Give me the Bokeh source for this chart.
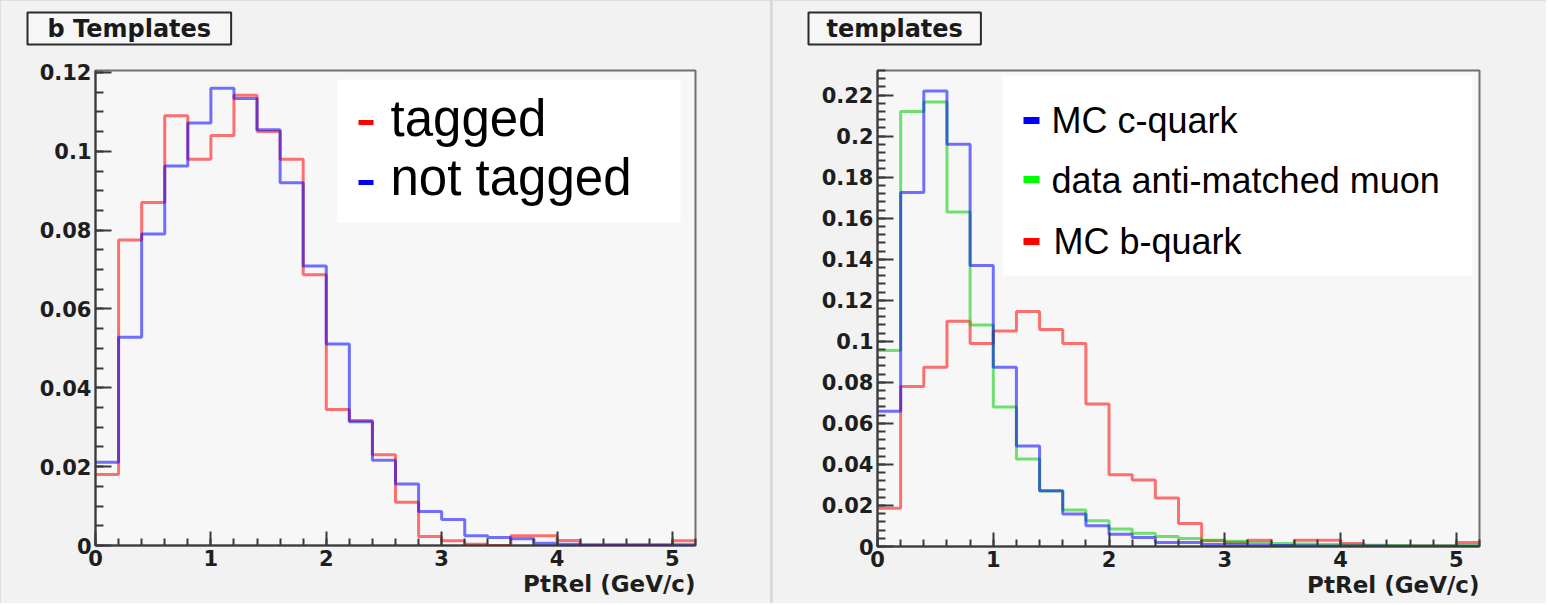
from bokeh.plotting import figure
from bokeh.models import (Range1d, SingleIntervalTicker, CustomJSTickFormatter,
                          Label, BoxAnnotation, ColumnDataSource, Title)
from bokeh.layouts import row
from bokeh.embed import file_html
from bokeh.resources import INLINE

# ---------------- data ----------------
bin_edges = [0.0, 0.2, 0.4, 0.6, 0.8, 1.0, 1.2, 1.4, 1.6, 1.8, 2.0, 2.2, 2.4,
             2.6, 2.8, 3.0, 3.2, 3.4, 3.6, 3.8, 4.0, 4.2, 4.4, 4.6, 4.8, 5.0, 5.2]

left_title = "b Templates"
right_title = "templates"
x_label = "PtRel (GeV/c)"

left_names = ["tagged", "not tagged"]
b_tagged = [0.0180, 0.0775, 0.0870, 0.1090, 0.0980, 0.1040, 0.1142, 0.1050,
            0.0980, 0.0687, 0.0345, 0.0317, 0.0230, 0.0110, 0.0023, 0.0012,
            0.0003, 0.0000, 0.0025, 0.0025, 0.0013, 0.0000, 0.0000, 0.0000,
            0.0000, 0.0012]
b_not_tagged = [0.0211, 0.0528, 0.0790, 0.0963, 0.1072, 0.1160, 0.1134, 0.1055,
                0.0920, 0.0709, 0.0511, 0.0314, 0.0216, 0.0156, 0.0086, 0.0066,
                0.0025, 0.0020, 0.0017, 0.0006, 0.0003, 0.0002, 0.0002, 0.0002,
                0.0002, 0.0002]

right_names = ["MC c-quark", "data anti-matched muon", "MC b-quark"]
mc_c_quark = [0.0659, 0.1725, 0.2220, 0.1960, 0.1370, 0.0874, 0.0490, 0.0272,
              0.0158, 0.0101, 0.0060, 0.0044, 0.0020, 0.0020, 0.0010, 0.0008,
              0.0006, 0.0005, 0.0004, 0.0003, 0.0002, 0.0002, 0.0001, 0.0001,
              0.0001, 0.0001]
data_anti_matched = [0.0955, 0.2120, 0.2167, 0.1630, 0.1080, 0.0680, 0.0426,
                     0.0270, 0.0178, 0.0125, 0.0085, 0.0065, 0.0049, 0.0039,
                     0.0030, 0.0025, 0.0020, 0.0015, 0.0012, 0.0010, 0.0008,
                     0.0006, 0.0005, 0.0004, 0.0004, 0.0006]
mc_b_quark = [0.0186, 0.0780, 0.0874, 0.1098, 0.0990, 0.1050, 0.1145, 0.1058,
              0.0990, 0.0695, 0.0350, 0.0324, 0.0236, 0.0112, 0.0028, 0.0020,
              0.0030, 0.0003, 0.0030, 0.0030, 0.0015, 0.0003, 0.0003, 0.0003,
              0.0003, 0.0020]

# ---------------- style ----------------
AX = "#3a3a3a"
TICKFONT = "DejaVu Sans"
LEGFONT = "Liberation Sans"
RED, BLUE, GREEN = "#ff0000", "#0000ff", "#00cc00"
PAGE_H = 603

fmt_code = "return parseFloat(tick.toFixed(3)).toString();"


def make_panel(frame_left, frame_right, frame_top, frame_bottom, fig_left,
               fig_right, ymax, y_minor, title_text, title_left, title_pad):
    fw = frame_right - frame_left
    fh = frame_bottom - frame_top
    p = figure(frame_width=fw, frame_height=fh,
               x_range=Range1d(0, 5.2), y_range=Range1d(0, ymax),
               min_border_left=frame_left - fig_left,
               min_border_right=fig_right - frame_right,
               min_border_top=frame_top,
               min_border_bottom=PAGE_H - frame_bottom,
               output_backend="svg", toolbar_location=None,
               background_fill_color="#f7f7f7", border_fill_color="#f2f2f2")
    p.grid.visible = False
    p.outline_line_color = "#707070"
    p.outline_line_width = 2
    p.xaxis.ticker = SingleIntervalTicker(interval=1, num_minor_ticks=5)
    p.yaxis.ticker = SingleIntervalTicker(interval=0.02, num_minor_ticks=y_minor)
    for ax in (p.xaxis[0], p.yaxis[0]):
        ax.formatter = CustomJSTickFormatter(code=fmt_code)
        ax.axis_line_color = AX
        ax.axis_line_width = 2
        ax.major_tick_line_color = AX
        ax.minor_tick_line_color = AX
        ax.major_tick_line_width = 2
        ax.minor_tick_line_width = 2
        ax.major_tick_out = 0
        ax.minor_tick_out = 0
        ax.major_label_text_font = TICKFONT
        ax.major_label_text_font_style = "bold"
        ax.major_label_text_font_size = "21px"
        ax.major_label_text_color = "#1e1e1e"
    p.xaxis.major_tick_in = 14
    p.xaxis.minor_tick_in = 7
    p.yaxis.major_tick_in = 16
    p.yaxis.minor_tick_in = 8
    p.xaxis.major_label_standoff = 4
    p.yaxis.major_label_standoff = 4

    # x-axis title, right aligned below the axis
    p.add_layout(Title(text=x_label, align="right", text_font=TICKFONT,
                       text_font_style="bold", text_font_size="23px",
                       text_color="#1e1e1e", standoff=0, offset=0), "below")

    # spacer between frame and the boxed title (closest to the frame)
    p.add_layout(Title(text=" ", text_font_size="14px", standoff=8), "above")
    # boxed histogram title, top left  (padding = left, right, top, bottom)
    p.add_layout(Title(text=title_text, align="left",
                       offset=title_left - frame_left,
                       text_font=TICKFONT, text_font_style="bold",
                       text_font_size="24px", text_color="#1a1a1a",
                       background_fill_color="#f6f6f6",
                       border_line_color="#2a2a2a", border_line_width=2,
                       padding=(title_pad, title_pad, 2, 2), standoff=0),
                 "above")

    def xd(px):
        return (px - frame_left) / fw * 5.2

    def yd(py):
        return (frame_bottom - py) / fh * ymax

    return p, xd, yd


def add_hist(p, vals, color):
    src = ColumnDataSource(dict(x=bin_edges, y=list(vals) + [vals[-1]]))
    p.step("x", "y", source=src, mode="after", line_color=color,
           line_width=3, line_alpha=0.55)


def add_legend(p, xd, yd, box, entries, dash_x, dash_h, fs):
    l, r, t, b = box
    p.add_layout(BoxAnnotation(left=xd(l), right=xd(r), top=yd(t), bottom=yd(b),
                               fill_color="white", fill_alpha=1, line_color=None))
    for text, color, dash_y, text_x, base_y in entries:
        p.add_layout(BoxAnnotation(left=xd(dash_x[0]), right=xd(dash_x[1]),
                                   top=yd(dash_y - dash_h / 2),
                                   bottom=yd(dash_y + dash_h / 2),
                                   fill_color=color, fill_alpha=1, line_color=None))
        p.add_layout(Label(x=xd(text_x), y=yd(base_y - 0.37 * fs), text=text,
                           text_font=LEGFONT, text_font_size=f"{fs}px",
                           text_align="left", text_baseline="alphabetic",
                           text_color="black"))


# ---------------- left panel ----------------
p1, xd1, yd1 = make_panel(95, 695, 70, 545, 0, 770, 0.1205, 4,
                          left_title, 27, 20)
add_hist(p1, b_tagged, RED)
add_hist(p1, b_not_tagged, BLUE)
add_legend(p1, xd1, yd1, (337, 680, 79, 222),
           [(left_names[0], RED, 122, 390, 137),
            (left_names[1], BLUE, 182, 390, 196)],
           (358, 373), 5, 51)

# ---------------- right panel ----------------
p2, xd2, yd2 = make_panel(877, 1479, 70, 546, 772, 1546, 0.232, 5,
                          right_title, 808, 18)
add_hist(p2, mc_b_quark, RED)
add_hist(p2, data_anti_matched, GREEN)
add_hist(p2, mc_c_quark, BLUE)
add_legend(p2, xd2, yd2, (1002, 1472, 75, 275),
           [(right_names[0], BLUE, 120, 1051, 133),
            (right_names[1], "#00ff00", 179, 1051, 193),
            (right_names[2], RED, 241, 1053, 254)],
           (1023, 1039), 7, 36)

layout = row(p1, p2, spacing=2, styles={"background-color": "#d8d8d8"})

with open("out.html", "w") as f:
    f.write(file_html(layout, INLINE))
